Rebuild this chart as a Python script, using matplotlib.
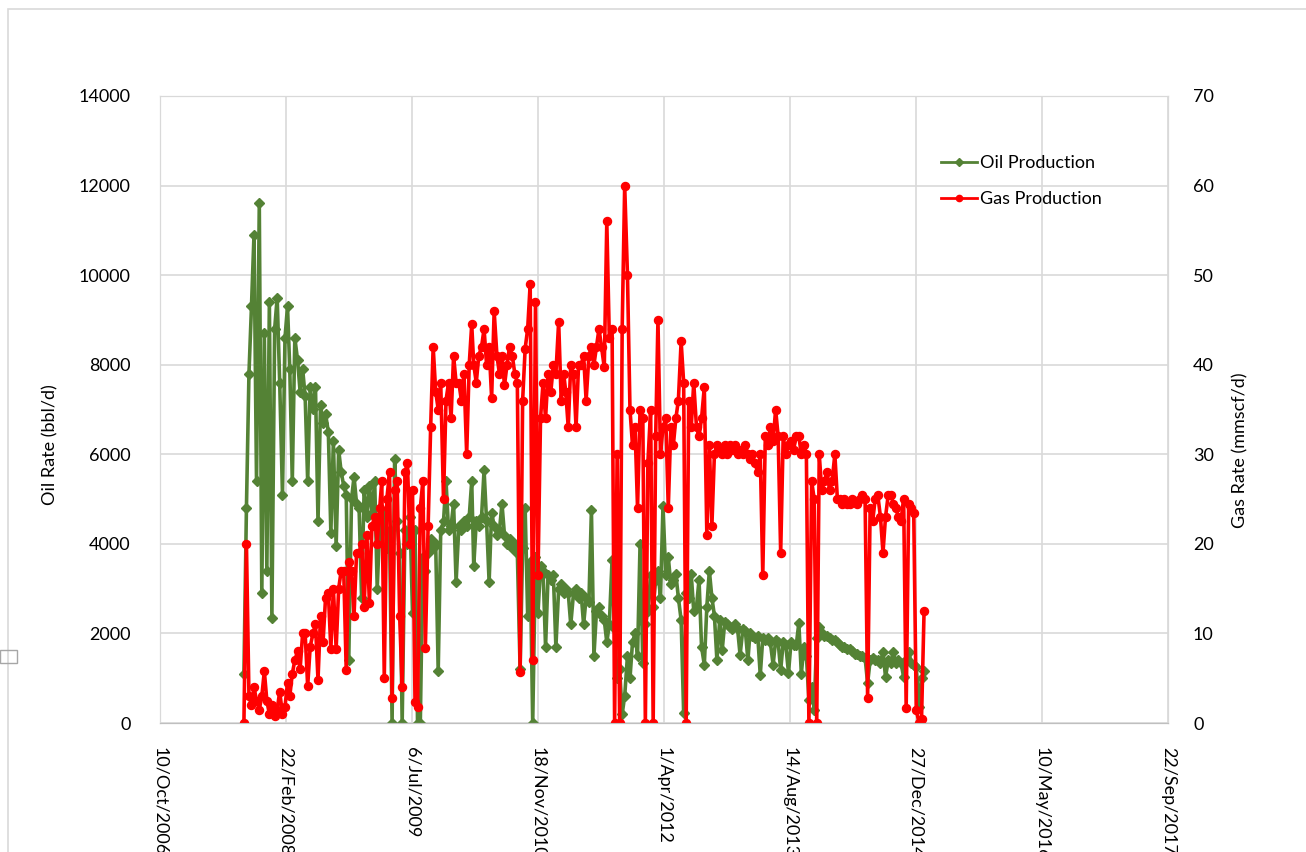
import pandas as pd
import matplotlib
matplotlib.use("Agg")
import matplotlib.pyplot as plt
from matplotlib.lines import Line2D
from matplotlib.patches import Rectangle

plt.rcParams['font.family'] = ['Lato', 'DejaVu Sans']

# sampling: three readings per month (days 8, 18, 28)
sample_days = [8, 18, 28]
months = [
    "2007-09", "2007-10", "2007-11", "2007-12",
    "2008-01", "2008-02", "2008-03", "2008-04", "2008-05", "2008-06",
    "2008-07", "2008-08", "2008-09", "2008-10", "2008-11", "2008-12",
    "2009-01", "2009-02", "2009-03", "2009-04", "2009-05", "2009-06",
    "2009-07", "2009-08", "2009-09", "2009-10", "2009-11", "2009-12",
    "2010-01", "2010-02", "2010-03", "2010-04", "2010-05", "2010-06",
    "2010-07", "2010-08", "2010-09", "2010-10", "2010-11", "2010-12",
    "2011-01", "2011-02", "2011-03", "2011-04", "2011-05", "2011-06",
    "2011-07", "2011-08", "2011-09", "2011-10", "2011-11", "2011-12",
    "2012-01", "2012-02", "2012-03", "2012-04", "2012-05", "2012-06",
    "2012-07", "2012-08", "2012-09", "2012-10", "2012-11", "2012-12",
    "2013-01", "2013-02", "2013-03", "2013-04", "2013-05", "2013-06",
    "2013-07", "2013-08", "2013-09", "2013-10", "2013-11", "2013-12",
    "2014-01", "2014-02", "2014-03", "2014-04", "2014-05", "2014-06",
    "2014-07", "2014-08", "2014-09", "2014-10", "2014-11", "2014-12",
    "2015-01",
]

# oil rate, bbl/d
oil_rate = [
    1100, 4800, 7800,  9300, 10900, 5400,  11600, 2900, 8700,  3400, 9400, 2350,
    8800, 9500, 7600,  5100, 8600, 9300,  7900, 5400, 8600,  8100, 7400, 7900,
    7300, 5400, 7500,  7000, 7500, 4500,  7100, 6700, 6900,  6500, 4250, 6300,
    3950, 6100, 5600,  5300, 5100, 1400,  5000, 5500, 4900,  4800, 2800, 5200,
    4600, 5300, 4700,  5400, 3000, 4400,  4500, 4700, 3900,  4300, 0, 5900,
    4500, 3800, 0,  4300, 4000, 4600,  2460, 4300, 0,  0, 3700, 3400,
    3800, 4100, 3900,  4000, 1150, 4300,  4500, 5400, 4300,  4400, 4900, 3150,
    4400, 4300, 4500,  4400, 4600, 5400,  3500, 4500, 4400,  4600, 5650, 4500,
    3150, 4700, 4400,  4200, 4300, 4900,  4200, 4000, 4100,  3900, 4000, 3800,
    1200, 3900, 4800,  2400, 3600, 0,  3700, 2450, 3500,  3400, 1700, 3300,
    3200, 3300, 1700,  3000, 3100, 2900,  3000, 2900, 2200,  2900, 3000, 2800,
    2900, 2200, 2800,  2700, 4750, 1500,  2500, 2600, 2400,  2300, 1800, 2200,
    3650, 2100, 1000,  1200, 200, 600,  1500, 1000, 1800,  2000, 1500, 4000,
    1340, 2200, 2500,  3300, 2600, 3200,  3400, 2800, 4850,  3300, 3700, 3100,
    3200, 3330, 2800,  2300, 220, 2900,  2800, 3330, 2500,  2600, 3200, 1700,
    1300, 2600, 3400,  2800, 2400, 1400,  2300, 1630, 2250,  2200, 2150, 2100,
    2200, 2100, 1520,  2100, 2050, 1400,  2000, 1950, 1900,  1950, 1070, 1900,
    1850, 1900, 1800,  1300, 1850, 1800,  1180, 1800, 1750,  1120, 1800, 1750,
    1750, 2230, 1100,  1700, 1500, 510,  800, 300, 1900,  2150, 2000, 1950,
    1950, 1900, 1850,  1850, 1800, 1750,  1700, 1700, 1650,  1650, 1600, 1550,
    1550, 1500, 1500,  1450, 890, 1400,  1450, 1400, 1400,  1350, 1590, 1030,
    1400, 1350, 1590,  1350, 1400, 1350,  1030, 1400, 1590,  1350, 1300, 1250,
    360, 1000, 1150,
]

# gas rate, mmscf/d
gas_rate = [
    0, 20, 3,  2, 4, 2.5,  1.5, 3, 5.8,  2.5, 1, 2,
    0.8, 1.5, 3.5,  1, 1.8, 4.5,  3, 5.5, 7,  8, 6, 10,
    10, 4.1, 8.5,  10, 11, 4.8,  12, 9, 14,  14.5, 8.3, 15,
    8.3, 15, 17,  17, 5.9, 18,  17, 12, 19,  19, 20, 13,
    21, 13.4, 22,  23, 20, 24,  27, 5, 25,  28, 2.8, 26,
    27, 12, 4,  28, 29, 20,  26, 2.3, 1.8,  24, 27, 8.4,
    22, 33, 42,  37, 35, 38,  25, 36, 38,  34, 41, 38,
    38, 36, 39,  30, 40, 44.5,  40, 38, 41,  42, 44, 40,
    42, 36.3, 46,  41, 39, 41,  37.7, 40, 42,  41, 39, 38,
    5.7, 36, 41.8,  44, 49, 7,  47, 16.5, 34,  38, 34, 39,
    37, 40, 39,  44.8, 36, 39,  37, 33, 40,  39, 33, 40,
    40, 41, 36,  41, 42, 40,  42, 44, 42,  39.7, 56, 43,
    44, 0, 30,  0, 44, 60,  50, 35, 31,  33, 24, 35,
    34, 0, 29,  35, 0, 32,  45, 30, 33,  34, 24, 33,
    31, 34, 36,  42.6, 38, 0,  36, 33, 38,  33, 32, 34,
    37.5, 21, 31,  22, 30, 31,  30.5, 30, 31,  30, 31, 30.5,
    31, 30, 30.5,  30, 31, 30,  29.5, 30, 29,  28, 30, 16.5,
    32, 31, 33,  31.5, 35, 32,  19, 32, 30,  31, 31.5, 30.5,
    32, 32, 30,  31, 30, 0,  27, 25, 0,  30, 26, 27,
    28, 26, 27,  30, 25, 25,  24.5, 25, 24.5,  24.5, 25, 24.8,
    24.5, 25, 25.5,  25, 2.8, 24,  22.5, 25, 25.5,  23, 19, 23,
    25.5, 25.5, 24.5,  24, 23, 22.5,  25, 1.7, 24.5,  24, 23.5, 1.5,
    0, 0.5, 12.5,
]

tick_labels = ["10/Oct/2006", "22/Feb/2008", "6/Jul/2009", "18/Nov/2010",
               "1/Apr/2012", "14/Aug/2013", "27/Dec/2014", "10/May/2016",
               "22/Sep/2017"]

dates = [pd.Timestamp(f"{m}-{d:02d}") for m in months for d in sample_days]
tick_dates = pd.to_datetime(tick_labels, format="%d/%b/%Y")

oil_color = "#548235"
gas_color = "#ff0000"
grid_color = "#d9d9d9"

fig = plt.figure(figsize=(13.06, 8.52), dpi=100)
ax = fig.add_axes([160 / 1306, 1 - 723 / 852, 1008 / 1306, 627 / 852])
ax2 = ax.twinx()

ax.plot(dates, oil_rate, color=oil_color, lw=2.6, marker="D", ms=5.2,
        mec=oil_color, mfc=oil_color, label="Oil Production")
ax2.plot(dates, gas_rate, color=gas_color, lw=2.6, marker="o", ms=5.8,
         mec=gas_color, mfc=gas_color, label="Gas Production")

ax.set_xlim(tick_dates[0], tick_dates[-1])
ax.set_ylim(0, 14000)
ax2.set_ylim(0, 70)
ax.set_yticks(range(0, 14001, 2000))
ax2.set_yticks(range(0, 71, 10))
ax.set_xticks(tick_dates)
ax.set_xticklabels(tick_labels, rotation=270, ha="center", va="top")

ax.grid(True, color=grid_color, lw=1.2)
ax.set_axisbelow(True)
for a in (ax, ax2):
    for s in a.spines.values():
        s.set_color(grid_color)
    a.spines["bottom"].set_color("#bfbfbf")
    a.tick_params(length=0, labelsize=13, colors="#000000")
ax.tick_params(axis="y", pad=21)
ax.tick_params(axis="x", pad=17)
ax2.tick_params(axis="y", pad=18)

fig.text(50 / 1306, 1 - 445 / 852, "Oil Rate (bbl/d)", rotation=90,
         ha="center", va="center", fontsize=13)
fig.text(1240 / 1306, 1 - 450 / 852, "Gas Rate (mmscf/d)", rotation=90,
         ha="center", va="center", fontsize=13)

handles = [
    Line2D([], [], color=oil_color, lw=2.0, marker="D", ms=4.5),
    Line2D([], [], color=gas_color, lw=2.0, marker="o", ms=4.5),
]
ax2.legend(handles, ["Oil Production", "Gas Production"], frameon=False,
           fontsize=13, loc="upper left", bbox_to_anchor=(932 / 1306, 1 - 146 / 852),
           bbox_transform=fig.transFigure, handlelength=2.0, handletextpad=0.15,
           labelspacing=1.1, borderpad=0, markerscale=1.0)

# chart frame and a stray sizing handle at the left edge
fig.patches.append(Rectangle((8 / 1306, -0.05), 1.2, 1.05 - 9 / 852,
                             transform=fig.transFigure, fill=False,
                             ec=grid_color, lw=1.2, clip_on=False))
fig.patches.append(Rectangle((0, 1 - 663 / 852), 17 / 1306, 13 / 852,
                             transform=fig.transFigure, fill=False,
                             ec="#a6a6a6", lw=1.0, clip_on=False))

fig.savefig("out.png", dpi=100)
